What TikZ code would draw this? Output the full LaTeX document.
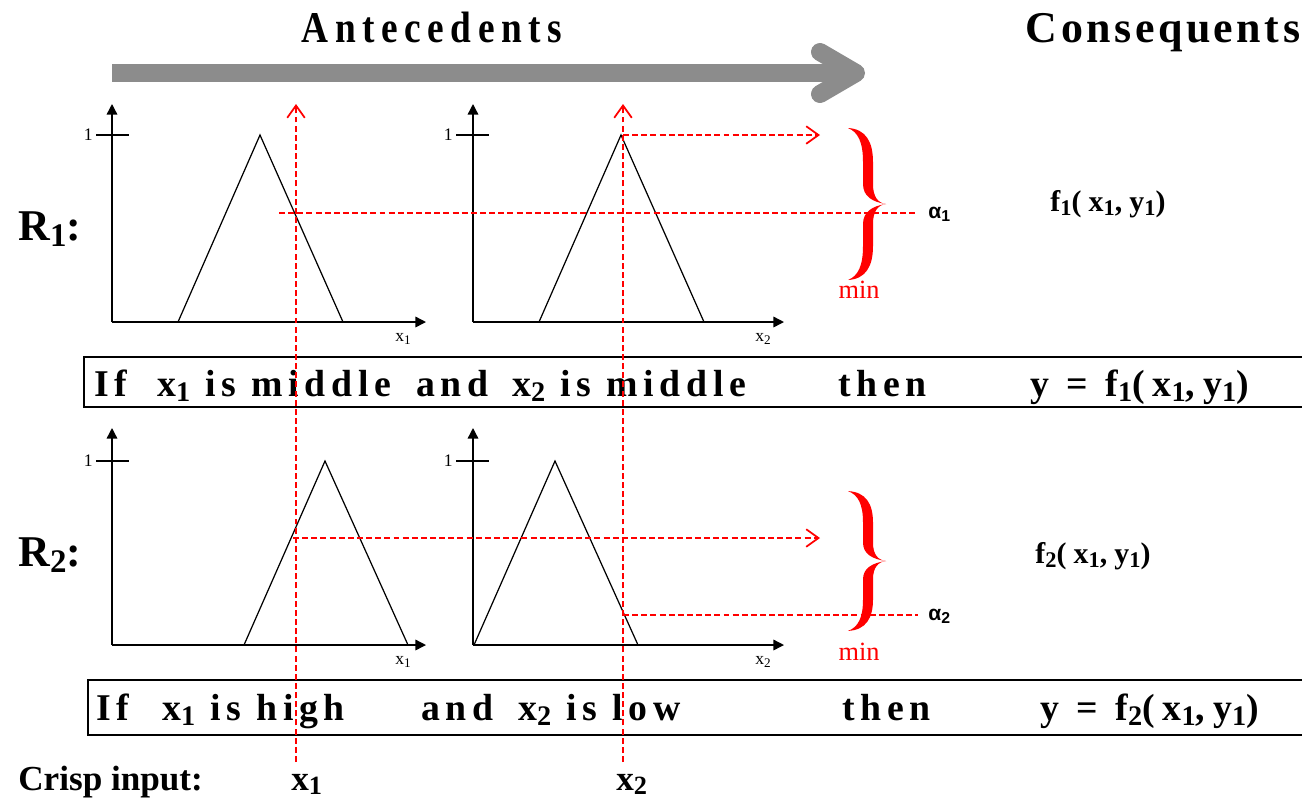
\documentclass[tikz,border=0pt]{standalone}
\usepackage{graphicx}
\usepackage{fontspec}
\setmainfont{Liberation Serif}
\newfontfamily\rulefont[LetterSpace=15]{Liberation Serif}
\newfontfamily\thenfont[LetterSpace=21]{Liberation Serif}
\newfontfamily\headfont[LetterSpace=15,FakeStretch=0.85]{Liberation Serif}
\newfontfamily\conseqfont[LetterSpace=8]{Liberation Serif}
\newfontfamily\funcfont[LetterSpace=24]{Liberation Serif}
\newfontfamily\alphafont{Liberation Sans}
\usetikzlibrary{arrows.meta,positioning,calc}
\newcommand{\lowsub}[1]{\raisebox{-0.3ex}{\scalebox{0.75}{#1}}}

\begin{document}
\begin{tikzpicture}[x=0.02cm, y=-0.02cm,
    axis/.style={-{Triangle[length=6pt,width=6pt]}, line width=0.8pt},
    tick/.style={line width=0.8pt},
    mf/.style={line width=0.7pt},
    cut/.style={red, line width=1pt, dash pattern=on 3.4pt off 1.8pt},
    cutarrow/.style={cut, -{Straight Barb[length=7pt,width=10pt]}},
    lbl/.style={font=\fontsize{10}{12}\selectfont, inner sep=0pt},
    head/.style={font=\headfont\bfseries\fontsize{25}{30}\selectfont, inner sep=0pt, anchor=base},
    conseq/.style={font=\funcfont\bfseries\fontsize{17}{20}\selectfont, inner sep=0pt, anchor=base west},
    rulelabel/.style={font=\bfseries\fontsize{25}{30}\selectfont, inner sep=0pt, anchor=base west},
    ruletext/.style={font=\rulefont\bfseries\fontsize{21.5}{24}\selectfont, inner sep=0pt, anchor=base west},
    thentext/.style={ruletext, font=\thenfont\bfseries\fontsize{21.5}{24}\selectfont},
    rulebox/.style={line width=1.3pt},
    crisp/.style={font=\bfseries\fontsize{20}{24}\selectfont, inner sep=0pt, anchor=base west},
    minlbl/.style={red, font=\fontsize{15}{18}\selectfont, inner sep=0pt},
    alphalbl/.style={font=\alphafont\bfseries\fontsize{12}{14}\selectfont, inner sep=0pt, anchor=west},
    bracefill/.style={fill=red},
    bigarrow/.style={line width=0.36cm, draw=black!45, line cap=round, line join=round}
]
    \useasboundingbox (0,0) rectangle (1302,799);

    % Headings and flow arrow
    \node[head] (antec) at (432,42) {Antecedents};
    \node[head] (conseq) at (1163,42) {\conseqfont Consequents};
    \coordinate (flowstart) at (112,73);
    \coordinate (flowtip) at (856,73);
    \draw[bigarrow, line cap=butt] (flowstart) -- ($(flowtip)+(-6,0)$);
    \draw[bigarrow] ($(flowtip)+(-36,-21)$) -- (flowtip) -- ($(flowtip)+(-36,21)$);

    % Rule 1 : x1 middle
    \node[rulelabel] (r1) at (18,240) {R\lowsub{1}:};
    \coordinate (a0) at (112,322);
    \coordinate (ay) at (112,104);
    \coordinate (ax) at (426,322);
    \draw[axis] (a0) -- (ay);
    \draw[axis] (a0) -- (ax);
    \draw[tick] (96,135) -- (129,135);
    \node[lbl, anchor=east] (aone) at (93,135) {1};
    \node[lbl] (alab) at (403,339) {x\lowsub{1}};
    \draw[mf] (178,322) -- (260,135) -- (343,322);

    % Rule 1 : x2 middle
    \coordinate (b0) at (473,322);
    \coordinate (by) at (473,104);
    \coordinate (bx) at (784,322);
    \draw[axis] (b0) -- (by);
    \draw[axis] (b0) -- (bx);
    \draw[tick] (456,135) -- (489,135);
    \node[lbl, anchor=east] (bone) at (453,135) {1};
    \node[lbl] (blab) at (763,339) {x\lowsub{2}};
    \draw[mf] (539,322) -- (621,135) -- (704,322);

    % Rule 1 : firing strength
    \coordinate (peak1) at (623,135);
    \coordinate (peak1end) at (820,135);
    \draw[cutarrow] (peak1) -- (peak1end);
    \coordinate (alpha1start) at (279,213);
    \coordinate (alpha1end) at (918,213);
    \draw[cut] (alpha1start) -- (alpha1end);
    \node[alphalbl] (alpha1) at (928,214) {α\lowsub{1}};
    \begin{scope}[shift={(866,204)}]
        \fill[bracefill] (-18,-76) .. controls (0,-75) and (7,-62) .. (7,-42) -- (7,-20)
            .. controls (7,-7) and (12,-1) .. (20,0) .. controls (6,-2) and (-3,-8) .. (-3,-20)
            -- (-3,-42) .. controls (-3,-62) and (-8,-72) .. (-18,-76) -- cycle;
        \fill[bracefill] (-18,76) .. controls (0,75) and (7,62) .. (7,42) -- (7,20)
            .. controls (7,7) and (12,1) .. (20,0) .. controls (6,2) and (-3,8) .. (-3,20)
            -- (-3,42) .. controls (-3,62) and (-8,72) .. (-18,76) -- cycle;
    \end{scope}
    \node[minlbl] (min1) at (859,290) {min};
    \node[conseq] (f1) at (1050,211) {f\lowsub{1}(x\lowsub{1},y\lowsub{1})};

    % Rule 1 text
    \draw[rulebox] (1302,357) -- (84,357) -- (84,407) -- (1302,407);
    \node[ruletext] (t1if) at (94,396) {If};
    \node[ruletext] (t1a) at (157,396) {x\lowsub{1} is middle};
    \node[ruletext] (t1and) at (416,396) {and};
    \node[ruletext] (t1b) at (512,396) {x\lowsub{2} is middle};
    \node[ruletext] (t1then) at (838,396) {then};
    \node[thentext] (t1y) at (1030,396) {y = f\lowsub{1}(x\lowsub{1},y\lowsub{1})};

    % Rule 2 : x1 high
    \node[rulelabel] (r2) at (18,566) {R\lowsub{2}:};
    \coordinate (c0) at (112,645);
    \coordinate (cy) at (112,428);
    \coordinate (cx) at (426,645);
    \draw[axis] (c0) -- (cy);
    \draw[axis] (c0) -- (cx);
    \draw[tick] (96,461) -- (129,461);
    \node[lbl, anchor=east] (cone) at (93,461) {1};
    \node[lbl] (clab) at (403,662) {x\lowsub{1}};
    \draw[mf] (244,645) -- (325,461) -- (408,645);

    % Rule 2 : x2 low
    \coordinate (d0) at (473,645);
    \coordinate (dy) at (473,428);
    \coordinate (dx) at (784,645);
    \draw[axis] (d0) -- (dy);
    \draw[axis] (d0) -- (dx);
    \draw[tick] (456,461) -- (489,461);
    \node[lbl, anchor=east] (done) at (453,461) {1};
    \node[lbl] (dlab) at (763,662) {x\lowsub{2}};
    \draw[mf] (474,645) -- (555,461) -- (638,645);

    % Rule 2 : firing strength
    \coordinate (cut2start) at (293,538);
    \coordinate (cut2end) at (820,538);
    \draw[cutarrow] (cut2start) -- (cut2end);
    \coordinate (alpha2start) at (623,615);
    \coordinate (alpha2end) at (918,615);
    \draw[cut] (alpha2start) -- (alpha2end);
    \node[alphalbl] (alpha2) at (928,616) {α\lowsub{2}};
    \begin{scope}[shift={(866,561)}, yscale=0.92]
        \fill[bracefill] (-18,-76) .. controls (0,-75) and (7,-62) .. (7,-42) -- (7,-20)
            .. controls (7,-7) and (12,-1) .. (20,0) .. controls (6,-2) and (-3,-8) .. (-3,-20)
            -- (-3,-42) .. controls (-3,-62) and (-8,-72) .. (-18,-76) -- cycle;
        \fill[bracefill] (-18,76) .. controls (0,75) and (7,62) .. (7,42) -- (7,20)
            .. controls (7,7) and (12,1) .. (20,0) .. controls (6,2) and (-3,8) .. (-3,20)
            -- (-3,42) .. controls (-3,62) and (-8,72) .. (-18,76) -- cycle;
    \end{scope}
    \node[minlbl] (min2) at (859,652) {min};
    \node[conseq] (f2) at (1035,563) {f\lowsub{2}(x\lowsub{1},y\lowsub{1})};

    % Rule 2 text
    \draw[rulebox] (1302,680) -- (88,680) -- (88,735) -- (1302,735);
    \node[ruletext] (t2if) at (96,720) {If};
    \node[ruletext] (t2a) at (162,720) {x\lowsub{1} is high};
    \node[ruletext] (t2and) at (421,720) {and};
    \node[ruletext] (t2b) at (518,720) {x\lowsub{2} is low};
    \node[ruletext] (t2then) at (842,720) {then};
    \node[thentext] (t2y) at (1040,720) {y = f\lowsub{2}(x\lowsub{1},y\lowsub{1})};

    % Crisp inputs
    \coordinate (in1top) at (296,104);
    \coordinate (in1bot) at (296,762);
    \coordinate (in2top) at (623,104);
    \coordinate (in2bot) at (623,762);
    \draw[cutarrow] (in1bot) -- (in1top);
    \draw[cutarrow] (in2bot) -- (in2top);
    \node[crisp] (crisp) at (18,790) {Crisp input:};
    \node[crisp] (cin1) at (291,790) {x\lowsub{1}};
    \node[crisp] (cin2) at (616,790) {x\lowsub{2}};
\end{tikzpicture}
\end{document}
